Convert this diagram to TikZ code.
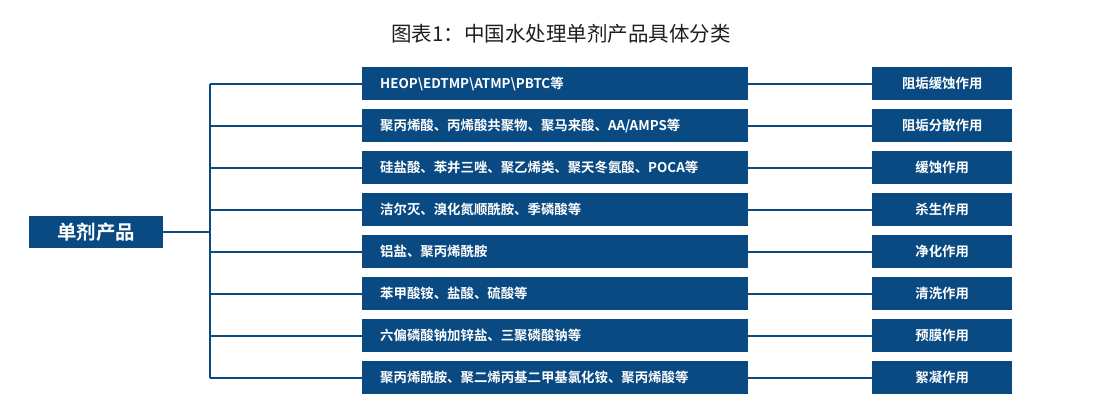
\documentclass[tikz,border=0pt]{standalone}
\usepackage{fontspec}
\setmainfont{Noto Sans CJK SC}[BoldFont={Noto Sans CJK SC Bold}]
\definecolor{navy}{HTML}{0A4A83}
\definecolor{titlegray}{HTML}{1E1E1E}
\begin{document}
\begin{tikzpicture}[x=1pt,y=-1pt,
  box/.style={fill=navy,text=white,font=\bfseries\fontsize{13.4}{15}\selectfont,inner sep=0pt},
  midbox/.style={box,anchor=north west,text width=350pt,inner xsep=18pt,align=left,minimum height=33pt},
  rightbox/.style={box,anchor=north west,minimum width=140pt,minimum height=33pt,align=center},
  link/.style={draw=navy,line width=2.2pt}]
\useasboundingbox (0,0) rectangle (1100,416);
\node[text=titlegray,font=\fontsize{20.5}{24}\selectfont,inner sep=0pt] (title) at (561,34) {图表1：中国水处理单剂产品具体分类};
\node[box,minimum width=134pt,minimum height=32pt,font=\bfseries\fontsize{19.4}{22}\selectfont] (root) at (96,232) {单剂产品};
\foreach \i/\mt/\rt in {
  1/{HEOP\textbackslash EDTMP\textbackslash ATMP\textbackslash PBTC等}/阻垢缓蚀作用,
  2/{聚丙烯酸、丙烯酸共聚物、聚马来酸、AA/AMPS等}/阻垢分散作用,
  3/{硅盐酸、苯并三唑、聚乙烯类、聚天冬氨酸、POCA等}/缓蚀作用,
  4/{洁尔灭、溴化氮顺酰胺、季磷酸等}/杀生作用,
  5/{铝盐、聚丙烯酰胺}/净化作用,
  6/{苯甲酸铵、盐酸、硫酸等}/清洗作用,
  7/{六偏磷酸钠加锌盐、三聚磷酸钠等}/预膜作用,
  8/{聚丙烯酰胺、聚二烯丙基二甲基氯化铵、聚丙烯酸等}/絮凝作用}{
  \node[midbox] (m\i) at (362,{67+42*(\i-1)}) {\mt};
  \node[rightbox] (r\i) at (872,{67+42*(\i-1)}) {\rt};
}
\coordinate (t) at (210,232);
\draw[link] (root.east) -- (t);
\draw[link] (t |- m1.west) -- (t |- m8.west);
\foreach \i in {1,...,8}{
  \draw[link] (t |- m\i.west) -- (m\i.west);
  \draw[link] (m\i.east) -- (r\i.west);
}
\end{tikzpicture}
\end{document}
